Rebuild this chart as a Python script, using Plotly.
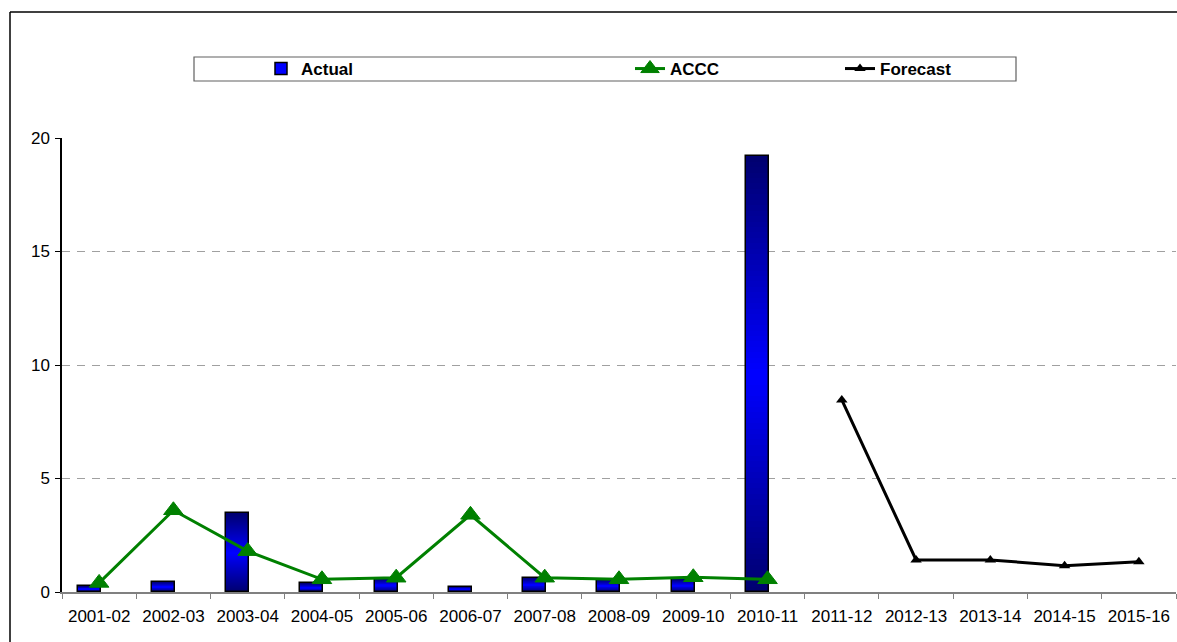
import plotly.graph_objects as go

# ---- data -------------------------------------------------------------
years = ["2001-02", "2002-03", "2003-04", "2004-05", "2005-06", "2006-07",
         "2007-08", "2008-09", "2009-10", "2010-11", "2011-12", "2012-13",
         "2013-14", "2014-15", "2015-16"]
actual = [0.25, 0.45, 3.47, 0.38, 0.58, 0.23, 0.63, 0.53, 0.57, 19.2]
accc = [0.4, 3.6, 1.8, 0.56, 0.63, 3.4, 0.63, 0.56, 0.65, 0.56]
forecast = [8.46, 1.41, 1.41, 1.16, 1.33]
y_ticks = [0, 5, 10, 15, 20]

# ---- geometry of the page -------------------------------------------
W, H = 1177, 642
ML, MR, MT, MB = 62, 1, 138, 50
PW, PH = W - ML - MR, H - MT - MB


def px_x(p):
    return (p - ML) / PW


def px_y(p):
    return (H - MB - p) / PH


FONT = "Liberation Sans, Arial, sans-serif"
x_all = list(range(len(years)))
x_act = x_all[:len(actual)]
x_acc = x_all[:len(accc)]
x_fc = x_all[len(actual):len(actual) + len(forecast)]

BAR_OFFSET, BAR_WIDTH = -0.29, 0.31

fig = go.Figure()

# Actual bars: layered bands give a navy -> blue -> navy vertical gradient
N = 40
for k in range(N):
    f = 0.5 * k / N
    t = k / (N - 1)
    b = int(round(112 + (255 - 112) * t))
    fig.add_trace(go.Bar(
        x=x_act, y=[v * (1 - 2 * f) for v in actual],
        base=[v * f for v in actual],
        offset=BAR_OFFSET, width=BAR_WIDTH,
        marker=dict(color=f"rgb(0,0,{b})", line=dict(width=0)),
        showlegend=False, hoverinfo="skip",
    ))

# outline of the Actual bars
fig.add_trace(go.Bar(
    x=x_act, y=actual, offset=BAR_OFFSET, width=BAR_WIDTH,
    marker=dict(color="rgba(0,0,0,0)", line=dict(color="black", width=1.5)),
    name="Actual", showlegend=False,
))

# legend entry for Actual
fig.add_trace(go.Bar(
    x=[None], y=[None], name="Actual", legend="legend",
    marker=dict(color="#0000ff", line=dict(color="black", width=1.5)),
))

fig.add_trace(go.Scatter(
    x=x_acc, y=accc, name="ACCC", mode="lines+markers", legend="legend2",
    line=dict(color="#008000", width=3),
    marker=dict(symbol="triangle-up", size=17, color="#008000",
                line=dict(color="#008000", width=1)),
))

fig.add_trace(go.Scatter(
    x=x_fc, y=forecast, name="Forecast", mode="lines+markers", legend="legend3",
    line=dict(color="black", width=3),
    marker=dict(symbol="triangle-up", size=10, color="black"),
))

legend_common = dict(
    orientation="h", yanchor="middle", xanchor="left",
    bgcolor="rgba(0,0,0,0)", borderwidth=0,
    font=dict(family=FONT, size=17, color="black", weight="bold"),
)

fig.update_layout(
    width=W, height=H,
    margin=dict(l=ML, r=MR, t=MT, b=MB, pad=0),
    paper_bgcolor="white", plot_bgcolor="white",
    barmode="overlay", bargap=0,
    font=dict(family=FONT, size=17, color="black"),
    legend=dict(x=px_x(261), y=px_y(69), **legend_common),
    legend2=dict(x=px_x(630), y=px_y(69), **legend_common),
    legend3=dict(x=px_x(840), y=px_y(69), **legend_common),
    xaxis=dict(
        range=[-0.5, len(years) - 0.5],
        tickmode="array", tickvals=x_all, ticktext=years,
        ticks="", showgrid=False, zeroline=False,
        showline=True, linecolor="#808080", linewidth=1.5,
        ticklabelstandoff=8,
        tickfont=dict(family=FONT, size=17, color="black"),
        minor=dict(tickmode="linear", tick0=-0.5, dtick=1, ticks="outside",
                   ticklen=5, tickcolor="#808080", tickwidth=1, showgrid=False),
    ),
    yaxis=dict(
        range=[0, 20], tickmode="array", tickvals=y_ticks,
        ticks="outside", ticklen=5, tickcolor="black", tickwidth=1,
        showline=True, linecolor="black", linewidth=1.5,
        showgrid=True, gridcolor="#a0a0a0", gridwidth=1, griddash="8px,7px",
        zeroline=False, ticklabelstandoff=2,
        tickfont=dict(family=FONT, size=17, color="black"),
    ),
    shapes=[
        # frame around the chart
        dict(type="line", xref="paper", yref="paper",
             x0=px_x(10), x1=px_x(1200), y0=px_y(12), y1=px_y(12),
             line=dict(color="black", width=1.5)),
        dict(type="line", xref="paper", yref="paper",
             x0=px_x(10), x1=px_x(10), y0=px_y(12), y1=px_y(700),
             line=dict(color="black", width=1.5)),
        # legend box
        dict(type="rect", xref="paper", yref="paper",
             x0=px_x(194), x1=px_x(1016), y0=px_y(81), y1=px_y(57),
             line=dict(color="#606060", width=1.2), fillcolor="rgba(0,0,0,0)"),
    ],
)

fig.write_html("out.html")
